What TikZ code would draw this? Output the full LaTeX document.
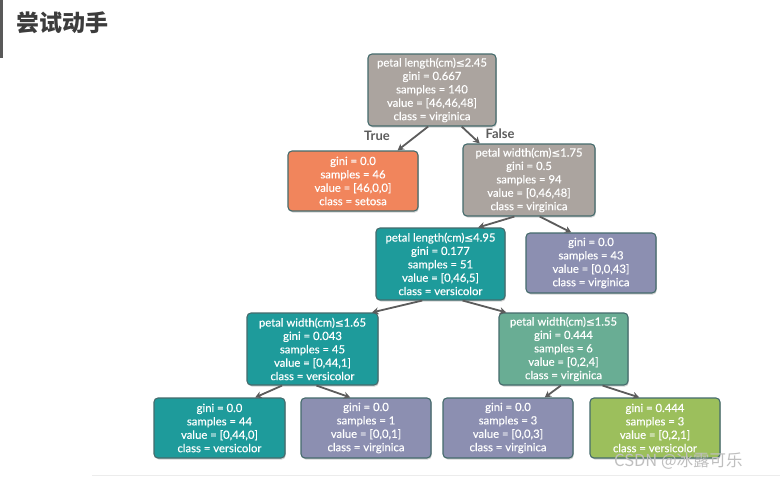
\documentclass[tikz,border=0pt]{standalone}
\usepackage{fontspec}
\setmainfont{Lato}
\newfontfamily\nodefont[FakeBold=0.35]{Lato}
\newfontfamily\cjk{Noto Sans CJK SC}
\newfontfamily\symf[FakeBold=0.35]{DejaVu Sans}
\usetikzlibrary{arrows.meta,shadows,calc}
\definecolor{cgrey}{HTML}{ABA49F}
\definecolor{corange}{HTML}{F1855C}
\definecolor{cteal}{HTML}{1E9B9B}
\definecolor{clav}{HTML}{8C8FB1}
\definecolor{cgreen}{HTML}{69AD94}
\definecolor{cyell}{HTML}{9CBF5C}
\definecolor{bordc}{HTML}{456B6C}
\definecolor{edgec}{HTML}{5C5C5C}
\definecolor{titlec}{HTML}{3C3C3C}
\newcommand\leqsym{{\symf\fontsize{10.5}{12}\selectfont ≤}}
\begin{document}
\begin{tikzpicture}[x=1pt,y=-1pt,
  tnode/.style={draw=bordc, line width=1.1pt, rounded corners=4pt, text=white,
    align=center, inner sep=0pt, font=\nodefont\fontsize{11.3}{13.4}\selectfont,
    minimum width=130pt, minimum height=72pt,
    drop shadow={opacity=0.35, shadow xshift=0.8pt, shadow yshift=-1.5pt}},
  leaf/.style={tnode, minimum height=60pt},
  edge/.style={draw=edgec, line width=1.8pt, -{Stealth[length=6.5pt,width=7pt]}},
  elabel/.style={text=edgec, font=\fontsize{13}{15}\selectfont\bfseries}]
\useasboundingbox (0,0) rectangle (780,477);
\fill[white] (0,0) rectangle (780,477);
% header
\fill[titlec!85] (0,0) rectangle (3,58);
\node[anchor=west, text=titlec, font=\cjk\fontsize{23}{25}\selectfont\bfseries, inner sep=0pt] (title) at (16,23) {尝试动手};
% nodes
\node[tnode, fill=cgrey, minimum width=128pt] (root) at (432,90)
  {petal length(cm)\leqsym2.45\\gini = 0.667\\samples = 140\\value = [46,46,48]\\class = virginica};
\node[leaf, fill=corange] (set) at (353,181)
  {gini = 0.0\\samples = 46\\value = [46,0,0]\\class = setosa};
\node[tnode, fill=cgrey, minimum width=132pt] (pwa) at (529,180)
  {petal width(cm)\leqsym1.75\\gini = 0.5\\samples = 94\\value = [0,46,48]\\class = virginica};
\node[tnode, fill=cteal, minimum width=129pt] (plb) at (440.5,264)
  {petal length(cm)\leqsym4.95\\gini = 0.177\\samples = 51\\value = [0,46,5]\\class = versicolor};
\node[leaf, fill=clav] (vq) at (591,263)
  {gini = 0.0\\samples = 43\\value = [0,0,43]\\class = virginica};
\node[tnode, fill=cteal, minimum width=131pt] (pwc) at (312.5,349)
  {petal width(cm)\leqsym1.65\\gini = 0.043\\samples = 45\\value = [0,44,1]\\class = versicolor};
\node[tnode, fill=cgreen, minimum width=129pt] (pwd) at (563.5,349)
  {petal width(cm)\leqsym1.55\\gini = 0.444\\samples = 6\\value = [0,2,4]\\class = virginica};
\node[leaf, fill=cteal, minimum width=131pt] (la) at (219.5,428)
  {gini = 0.0\\samples = 44\\value = [0,44,0]\\class = versicolor};
\node[leaf, fill=clav] (lb) at (366,428)
  {gini = 0.0\\samples = 1\\value = [0,0,1]\\class = virginica};
\node[leaf, fill=clav] (lc) at (508,428)
  {gini = 0.0\\samples = 3\\value = [0,0,3]\\class = virginica};
\node[leaf, fill=cyell] (ld) at (655,428)
  {gini = 0.444\\samples = 3\\value = [0,2,1]\\class = versicolor};
% edges
\draw[edge] ($(root.south west)!0.47!(root.south east)$) -- ($(set.north west)!0.84!(set.north east)$);
\draw[edge] ($(root.south west)!0.73!(root.south east)$) -- ($(pwa.north west)!0.13!(pwa.north east)$);
\draw[edge] ($(pwa.south west)!0.39!(pwa.south east)$) -- ($(plb.north west)!0.79!(plb.north east)$);
\draw[edge] ($(pwa.south west)!0.58!(pwa.south east)$) -- ($(vq.north west)!0.35!(vq.north east)$);
\draw[edge] ($(plb.south west)!0.36!(plb.south east)$) -- ($(pwc.north west)!0.95!(pwc.north east)$);
\draw[edge] ($(plb.south west)!0.67!(plb.south east)$) -- ($(pwd.north west)!0.06!(pwd.north east)$);
\draw[edge] ($(pwc.south west)!0.27!(pwc.south east)$) -- ($(la.north west)!0.77!(la.north east)$);
\draw[edge] ($(pwc.south west)!0.53!(pwc.south east)$) -- ($(lb.north west)!0.38!(lb.north east)$);
\draw[edge] ($(pwd.south west)!0.48!(pwd.south east)$) -- ($(lc.north west)!0.78!(lc.north east)$);
\draw[edge] ($(pwd.south west)!0.80!(pwd.south east)$) -- ($(ld.north west)!0.38!(ld.north east)$);
% edge labels
\node[elabel] (tl) at (377,136) {True};
\node[elabel] (fl) at (500,134) {False};
% bottom rule and watermark
\draw[gray!15, line width=0.8pt] (92,475.5) -- (780,475.5);
\node[anchor=west, text=gray!50, font=\cjk\fontsize{16.5}{18}\selectfont, inner sep=0pt] (wm) at (614,461) {CSDN @冰露可乐};
\end{tikzpicture}
\end{document}
